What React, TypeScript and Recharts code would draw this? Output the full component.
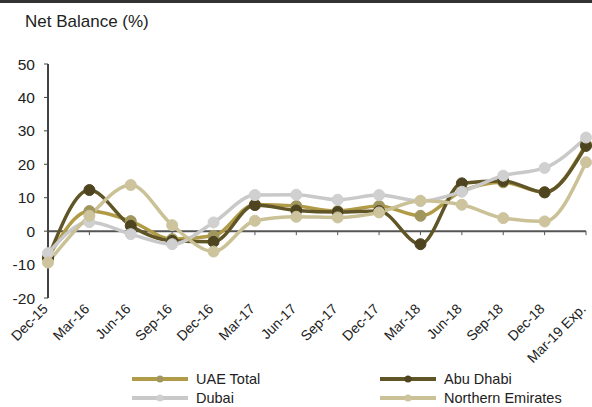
import React from 'react';
import { LineChart, Line, XAxis, YAxis, ReferenceLine } from 'recharts';

const periods = ['Dec-15', 'Mar-16', 'Jun-16', 'Sep-16', 'Dec-16', 'Mar-17', 'Jun-17', 'Sep-17', 'Dec-17', 'Mar-18', 'Jun-18', 'Sep-18', 'Dec-18', 'Mar-19 Exp.'];
const uaeTotal = [-8, 6, 3, -2.4, -1.4, 8, 7.5, 6, 7.5, 4.6, 12, 14.6, 11.6, 26];
const abuDhabi = [-8, 12.3, 1.6, -2.9, -3.2, 7.8, 6.2, 5.7, 6, -3.9, 14.3, 15, 11.6, 25.5];
const dubai = [-6.6, 2.7, -0.9, -3.9, 2.6, 10.8, 10.9, 9.4, 10.8, 9, 11.8, 16.6, 18.9, 28];
const northernEmirates = [-9.4, 4.6, 13.8, 1.8, -6.1, 3.1, 4.3, 4.1, 5.6, 9.1, 7.9, 3.9, 2.9, 20.6];
const yTicks = [-20, -10, 0, 10, 20, 30, 40, 50];

const series = [
  { key: 'uae', name: 'UAE Total', color: '#B19B47', dot: '#A0965E' },
  { key: 'abu', name: 'Abu Dhabi', color: '#5F5527', dot: '#4E4520' },
  { key: 'dubai', name: 'Dubai', color: '#C9C9C9', dot: '#D0D0D0' },
  { key: 'ne', name: 'Northern Emirates', color: '#CBC197', dot: '#CDC49E' }
];

const data = periods.map((p, i) => ({
  period: p,
  uae: uaeTotal[i],
  abu: abuDhabi[i],
  dubai: dubai[i],
  ne: northernEmirates[i]
}));

const FONT = '"Liberation Sans", Arial, sans-serif';

const XTick = (props: any) => {
  const { x, y, payload } = props;
  return (
    <g transform={`translate(${x - 2},${y + 7})`}>
      <text transform="rotate(-45)" textAnchor="end" dy={4} fontSize={14} fill="#222" fontFamily={FONT}>
        {payload.value}
      </text>
    </g>
  );
};

const LegendItem = ({ s, left, top }: { s: typeof series[number]; left: number; top: number }) => (
  <div style={{ position: 'absolute', left, top, height: 14, lineHeight: '14px', display: 'flex', alignItems: 'center', fontFamily: FONT, fontSize: 14.5, color: '#222', whiteSpace: 'nowrap' }}>
    <svg width={58} height={10} style={{ marginRight: 7 }}>
      <line x1={1} y1={5} x2={57} y2={5} stroke={s.color} strokeWidth={4} />
      <circle cx={29} cy={5} r={3.5} fill={s.dot} />
    </svg>
    <span>{s.name}</span>
  </div>
);

export default function App() {
  return (
    <div style={{ position: 'absolute', left: 0, top: 0, width: 592, height: 407, background: '#fff', overflow: 'hidden' }}>
      <div style={{ position: 'absolute', left: 0, top: 0, width: 592, height: 3, background: '#333' }} />
      <div style={{ position: 'absolute', left: 25, top: 12, fontFamily: FONT, fontSize: 17, color: '#222', whiteSpace: 'nowrap' }}>
        Net Balance (%)
      </div>
      <LineChart width={592} height={407} data={data} margin={{ top: 64, right: 6, bottom: 0, left: 0 }}>
        <XAxis
          dataKey="period"
          axisLine={false}
          tickLine={false}
          tickSize={0}
          height={109}
          interval={0}
          tick={<XTick />}
        />
        <YAxis
          domain={[-20, 50]}
          ticks={yTicks}
          width={48}
          axisLine={{ stroke: '#444', strokeWidth: 2 }}
          tickLine={{ stroke: '#444' }}
          tickSize={4}
          tickMargin={9}
          tick={{ fontSize: 15.5, fill: '#222', fontFamily: FONT }}
        />
        <ReferenceLine y={0} stroke="#555" strokeWidth={2} />
        {periods.map(p => (
          <ReferenceLine key={p} segment={[{ x: p, y: 0 }, { x: p, y: -1.2 }]} stroke="#555" strokeWidth={1} />
        ))}
        {series.map(s => (
          <Line
            key={s.key}
            dataKey={s.key}
            name={s.name}
            type="monotone"
            stroke={s.color}
            strokeWidth={3.5}
            dot={{ r: 5.5, fill: s.dot, stroke: s.dot, strokeWidth: 1 }}
            isAnimationActive={false}
          />
        ))}
      </LineChart>
      <LegendItem s={series[0]} left={131} top={372} />
      <LegendItem s={series[1]} left={379} top={372} />
      <LegendItem s={series[2]} left={131} top={391} />
      <LegendItem s={series[3]} left={379} top={391} />
    </div>
  );
}
